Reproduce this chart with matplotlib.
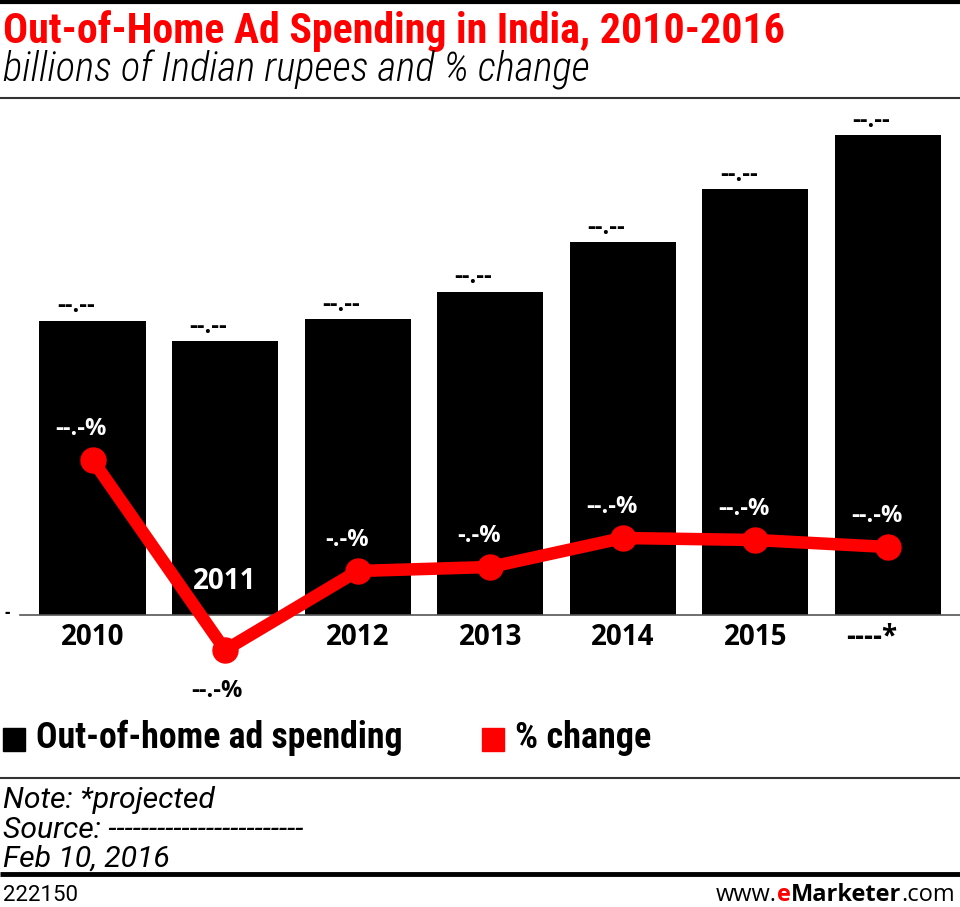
import matplotlib
matplotlib.use("Agg")
import matplotlib.pyplot as plt
from matplotlib.lines import Line2D
from matplotlib.patches import Rectangle
from matplotlib.transforms import ScaledTranslation

years = ["2010", "2011", "2012", "2013", "2014", "2015", "----*"]
spending = [18.4, 17.1, 18.5, 20.2, 23.3, 26.6, 30.0]   # billions of INR
pct_change = [15.5, -3.5, 4.4, 4.8, 7.7, 7.5, 6.8]      # % change
bar_labels = ["--.--"] * 7
pct_labels = ["--.-%", "--.-%", "-.-%", "-.-%", "--.-%", "--.-%", "--.-%"]

W, H = 960, 907
COND = ["Roboto Condensed", "Archivo Narrow", "DejaVu Sans"]
PLAIN = ["Roboto", "DejaVu Sans"]
BOLD = ["Open Sans", "DejaVu Sans"]
RED = "#ff0000"


def fy(y):
    return 1 - y / H


def fx(x):
    return x / W


fig = plt.figure(figsize=(W / 100, H / 100), dpi=100)
fig.patch.set_facecolor("white")
r = fig.canvas.get_renderer()


def fit(t, width):
    # scale a text so it spans the same width as in the reference
    bb = t.get_window_extent(renderer=r)
    t.set_fontsize(t.get_fontsize() * width / bb.width)
    return t


def hline(y, lw, color="black"):
    fig.add_artist(Line2D([0, 1], [fy(y), fy(y)], transform=fig.transFigure,
                          lw=lw, color=color, solid_capstyle="butt"))


# rules
hline(1.5, 3.0)
hline(98, 1.5, "#333333")
hline(778, 1.5, "#333333")
hline(874, 3.5)

# header
fit(fig.text(fx(3), fy(43), "Out-of-Home Ad Spending in India, 2010-2016", color=RED,
             family=COND, weight="bold", fontsize=24, va="baseline", ha="left"), 785)
fit(fig.text(fx(3), fy(82), "billions of Indian rupees and % change", color="black",
             family=COND, weight="light", style="italic", fontsize=22,
             va="baseline", ha="left"), 585)

# plot area
ax = fig.add_axes([fx(20), fy(615), 1 - fx(20), fy(100) - fy(615)])
ax.set_facecolor("none")
x = list(range(len(years)))
ax.bar(x, spending, width=0.8, color="black", zorder=2)
ax.set_xlim(-0.547, 6.543)
ax.set_ylim(0, 515 / 16)
for s in ["top", "right", "left"]:
    ax.spines[s].set_visible(False)
ax.spines["bottom"].set_color("#555555")
ax.spines["bottom"].set_linewidth(1.2)
ax.set_yticks([0])
ax.set_yticklabels(["-"], fontsize=12, family=BOLD, weight="bold")
ax.tick_params(axis="y", length=0, pad=7)
ylab = ax.get_yticklabels()[0]
ylab.set_transform(ylab.get_transform() + ScaledTranslation(0, 0.04, fig.dpi_scale_trans))
ax.set_xticks(x)
tick_text = ["" if y == "2011" else y for y in years]
ax.set_xticklabels(tick_text, fontsize=20, family=BOLD, weight="bold")
ax.tick_params(axis="x", length=0, pad=6)
lab = ax.get_xticklabels()[-1]
lab.set_transform(lab.get_transform() + ScaledTranslation(-0.16, 0, fig.dpi_scale_trans))

for xi, v, lab in zip(x, spending, bar_labels):
    ax.annotate(lab, (xi, v), xytext=(-12, 6), textcoords="offset points",
                ha="center", va="baseline", fontsize=17, family=BOLD, weight="bold")

# 2011 label drawn inside its bar (the line point covers the axis spot)
ax.text(1, (615 - 589) / 16, "2011", color="white", ha="center", va="baseline",
        fontsize=20, family=BOLD, weight="bold", zorder=3)

# % change on a second axis sharing the baseline
ax2 = ax.twinx()
ax2.set_ylim(0, 51.5)
ax2.axis("off")
ax2.plot(x, pct_change, color=RED, lw=9, marker="o", markersize=18,
         clip_on=False, zorder=4)
for xi, v, lab in zip(x, pct_change, pct_labels):
    if v < 0:
        ax2.annotate(lab, (xi, v), xytext=(-6, -34), textcoords="offset points",
                     ha="center", va="baseline", fontsize=17, family=BOLD,
                     weight="bold", color="black", annotation_clip=False)
    else:
        ax2.annotate(lab, (xi, v), xytext=(-8, 18), textcoords="offset points",
                     ha="center", va="baseline", fontsize=17, family=BOLD,
                     weight="bold", color="white", annotation_clip=False)

# legend
fig.add_artist(Rectangle((fx(3), fy(751)), fx(22), fy(728) - fy(751),
                         transform=fig.transFigure, color="black"))
fit(fig.text(fx(36), fy(748), "Out-of-home ad spending", family=COND, weight="bold",
             fontsize=22, va="baseline", ha="left"), 367)
fig.add_artist(Rectangle((fx(482), fy(751)), fx(22), fy(728) - fy(751),
                         transform=fig.transFigure, color=RED))
fit(fig.text(fx(515), fy(748), "% change", family=COND, weight="bold",
             fontsize=22, va="baseline", ha="left"), 136)

# notes (one size for all three lines, taken from the first)
note = fit(fig.text(fx(3), fy(808), "Note: *projected", family=PLAIN, style="italic",
                    fontsize=18, va="baseline", ha="left"), 212)
for y, t in [(838, "Source: ------------------------"), (867, "Feb 10, 2016")]:
    fig.text(fx(3), fy(y), t, family=PLAIN, style="italic",
             fontsize=note.get_fontsize(), va="baseline", ha="left")
fit(fig.text(fx(3), fy(901), "222150", family=PLAIN, fontsize=16,
             va="baseline", ha="left"), 75)

# www.eMarketer.com, built right to left
xr = fx(955)
for txt, col, wt in [(".com", "black", "normal"), ("Marketer", "black", "bold"),
                     ("e", RED, "bold"), ("www.", "black", "normal")]:
    t = fig.text(xr, fy(901), txt, color=col, weight=wt, family=BOLD,
                 fontsize=17, va="baseline", ha="right")
    bb = t.get_window_extent(renderer=r)
    xr -= bb.width / W

fig.savefig("out.png", dpi=100, facecolor="white")
